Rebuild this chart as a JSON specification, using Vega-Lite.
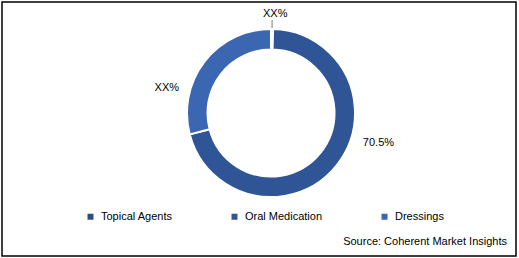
{
  "$schema": "https://vega.github.io/schema/vega-lite/v6.json",
  "autosize": {"type": "none"},
  "width": 514,
  "height": 254,
  "padding": {"left": 2, "top": 2, "right": 3, "bottom": 2},
  "background": "white",
  "config": {
    "view": {"stroke": "#000000", "strokeWidth": 1.5},
    "font": "Liberation Sans"
  },
  "data": {
    "values": [
      {"segment": "Topical Agents", "share": 0.4, "order": 1, "label": "XX%"},
      {"segment": "Oral Medication", "share": 70.5, "order": 2, "label": "70.5%"},
      {"segment": "Dressings", "share": 29.1, "order": 3, "label": "XX%"}
    ]
  },
  "title": {
    "text": "Source: Coherent Market Insights",
    "orient": "bottom",
    "anchor": "end",
    "frame": "group",
    "offset": 0,
    "dy": -20,
    "dx": -9,
    "fontSize": 11,
    "fontWeight": "normal",
    "font": "Liberation Sans",
    "color": "#000000"
  },
  "encoding": {
    "theta": {"field": "share", "type": "quantitative", "stack": true},
    "order": {"field": "order", "type": "quantitative", "sort": "ascending"}
  },
  "layer": [
    {
      "mark": {"type": "point", "opacity": 0},
      "encoding": {
        "theta": null,
        "order": null,
        "x": {"datum": 0, "type": "quantitative", "axis": null},
        "y": {"datum": 0, "type": "quantitative", "axis": null}
      }
    },
    {
      "mark": {"type": "arc", "x": 269, "y": 111, "outerRadius": 84, "innerRadius": 63.5, "stroke": "#ffffff", "strokeWidth": 2},
      "encoding": {
        "color": {
          "field": "segment",
          "type": "nominal",
          "sort": ["Topical Agents", "Oral Medication", "Dressings"],
          "scale": {"domain": ["Topical Agents", "Oral Medication", "Dressings"], "range": ["#2A4D8A", "#2F5597", "#3B67B2"]},
          "legend": {
            "title": null,
            "orient": "none",
            "direction": "horizontal",
            "legendX": 83,
            "legendY": 209,
            "symbolType": "square",
            "symbolSize": 36,
            "symbolStrokeWidth": 0,
            "labelFontSize": 11,
            "labelFont": "Liberation Sans",
            "labelColor": "#000000",
            "labelOffset": 5,
            "columnPadding": 56,
            "padding": 0
          }
        }
      }
    },
    {
      "mark": {"type": "arc", "x": 269, "y": 111, "outerRadius": 93, "innerRadius": 85, "padAngle": 0.5, "fill": null, "stroke": "#A6A6A6", "strokeWidth": 1},
      "encoding": {
        "strokeOpacity": {"condition": {"test": "datum.order == 1", "value": 1}, "value": 0}
      }
    },
    {
      "mark": {"type": "text", "x": 269, "y": 111, "radius": 100, "dx": 3, "dy": 1, "fontSize": 11, "font": "Liberation Sans", "color": "#000000", "align": "center", "baseline": "middle"},
      "encoding": {
        "text": {"condition": {"test": "datum.order == 1", "field": "label"}, "value": ""}
      }
    },
    {
      "mark": {"type": "text", "x": 269, "y": 111, "radius": 100, "dx": 29, "dy": -32, "fontSize": 11, "font": "Liberation Sans", "color": "#000000", "align": "center", "baseline": "middle"},
      "encoding": {
        "text": {"condition": {"test": "datum.order == 2", "field": "label"}, "value": ""}
      }
    },
    {
      "mark": {"type": "text", "x": 269, "y": 111, "radius": 100, "dx": -25, "dy": 36, "fontSize": 11, "font": "Liberation Sans", "color": "#000000", "align": "center", "baseline": "middle"},
      "encoding": {
        "text": {"condition": {"test": "datum.order == 3", "field": "label"}, "value": ""}
      }
    }
  ]
}
